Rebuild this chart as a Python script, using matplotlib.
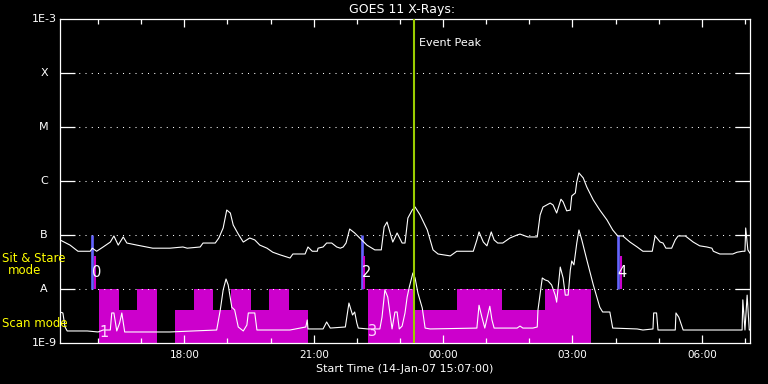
import matplotlib
matplotlib.use('Agg')
import matplotlib.pyplot as plt
from matplotlib.ticker import FixedLocator, NullLocator

title = "GOES 11 X-Rays:"
x_title = "Start Time (14-Jan-07 15:07:00)"
start_clock_min = 15 * 60 + 7          # 15:07
span_min = 960

# ---- GOES long channel (minutes after start, W/m^2) ----
long_t = [0, 14, 25, 42, 45, 51, 60, 70, 75, 81, 88, 93, 107, 129, 153, 171, 177, 195, 199,
          216, 221, 227, 232, 237, 241, 248, 255, 264, 271, 278, 288, 296, 306, 320, 324,
          341, 345, 351, 358, 359, 366, 371, 378, 385, 390, 394, 398, 403, 410, 417, 427,
          438, 447, 451, 455, 459, 463, 469, 476, 480, 484, 490, 494, 501, 511, 519, 526,
          543, 552, 575, 580, 583, 589, 594, 600, 604, 609, 616, 626, 636, 640, 651, 664,
          668, 672, 682, 686, 691, 697, 700, 705, 710, 712, 717, 719, 722, 728, 733, 742,
          751, 761, 769, 776, 783, 793, 803, 811, 824, 828, 835, 839, 843, 851, 856, 860,
          870, 881, 890, 900, 907, 909, 918, 936, 942, 950, 953, 954, 957, 960]
long_flux = [8.1e-8, 6.5e-8, 5.0e-8, 5.0e-8, 5.7e-8, 5.0e-8, 6.0e-8, 7.4e-8, 9.6e-8, 6.5e-8,
             9.2e-8, 7.1e-8, 6.5e-8, 5.7e-8, 5.7e-8, 6.0e-8, 5.7e-8, 6.0e-8, 7.1e-8, 7.1e-8,
             8.8e-8, 1.35e-7, 2.9e-7, 2.55e-7, 1.53e-7, 1.04e-7, 7.4e-8, 8.8e-8, 8.1e-8,
             6.5e-8, 5.7e-8, 4.8e-8, 4.3e-8, 3.75e-8, 4.45e-8, 4.45e-8, 6.0e-8, 5.0e-8,
             5.0e-8, 5.7e-8, 6.0e-8, 7.1e-8, 7.1e-8, 6.0e-8, 5.7e-8, 6.0e-8, 7.1e-8, 1.29e-7,
             1.09e-7, 8.8e-8, 6.5e-8, 5.3e-8, 5.3e-8, 1.41e-7, 1.74e-7, 1.14e-7, 7.4e-8,
             1.09e-7, 7.1e-8, 7.1e-8, 2.06e-7, 2.9e-7, 3.3e-7, 2.35e-7, 1.24e-7, 5.3e-8,
             4.45e-8, 4.1e-8, 5.0e-8, 5.0e-8, 8.1e-8, 1.14e-7, 7.4e-8, 6.3e-8, 1.14e-7,
             8.1e-8, 7.1e-8, 7.1e-8, 8.8e-8, 1.0e-7, 1.04e-7, 9.2e-8, 9.2e-8, 2.35e-7, 3.3e-7,
             3.9e-7, 3.6e-7, 2.55e-7, 4.6e-7, 4.1e-7, 2.8e-7, 2.9e-7, 5.3e-7, 6.0e-7, 9.6e-7,
             1.41e-6, 1.14e-6, 7.7e-7, 4.45e-7, 2.9e-7, 1.9e-7, 1.24e-7, 9.6e-8, 9.6e-8,
             7.4e-8, 6.0e-8, 5.0e-8, 5.0e-8, 9.6e-8, 7.4e-8, 7.1e-8, 5.7e-8, 5.7e-8, 8.1e-8,
             9.6e-8, 9.6e-8, 7.4e-8, 6.3e-8, 6.0e-8, 5.7e-8, 5.0e-8, 4.45e-8, 4.45e-8, 4.8e-8,
             5.0e-8, 5.0e-8, 1.35e-7, 5.3e-8, 4.6e-8]

# ---- GOES short channel ----
short_t = [0, 4, 7, 10, 38, 53, 60, 70, 72, 75, 79, 83, 86, 90, 153, 185, 218, 223, 227, 231,
           234, 239, 243, 248, 255, 260, 262, 271, 274, 320, 342, 344, 345, 366, 371, 376,
           397, 402, 407, 410, 413, 415, 428, 445, 448, 452, 456, 462, 466, 469, 472, 476,
           480, 483, 486, 491, 494, 498, 504, 508, 515, 580, 583, 587, 591, 598, 601, 604,
           636, 640, 644, 658, 664, 665, 671, 675, 679, 684, 689, 691, 696, 700, 703, 707,
           710, 712, 715, 719, 722, 726, 733, 742, 751, 755, 765, 769, 803, 811, 825, 826,
           830, 832, 856, 857, 861, 867, 949, 950, 953, 956, 959, 960]
short_flux = [3.75e-9, 3.6e-9, 1.98e-9, 1.67e-9, 1.67e-9, 1.6e-9, 1.74e-9, 1.74e-9, 3.6e-9,
              3.6e-9, 1.67e-9, 2.35e-9, 3.6e-9, 1.6e-9, 1.6e-9, 1.67e-9, 1.74e-9, 4.1e-9,
              9.6e-9, 1.53e-8, 1.19e-8, 4.6e-9, 4.1e-9, 1.98e-9, 1.67e-9, 2.15e-9, 3.6e-9,
              3.6e-9, 1.74e-9, 1.74e-9, 1.98e-9, 2.67e-9, 1.82e-9, 1.82e-9, 2.45e-9, 1.89e-9,
              1.98e-9, 5.5e-9, 3.3e-9, 3.75e-9, 2.35e-9, 1.89e-9, 1.82e-9, 1.82e-9, 3.0e-9,
              9.6e-9, 7.1e-9, 1.82e-9, 3.75e-9, 3.75e-9, 1.82e-9, 2.06e-9, 3.6e-9, 7.1e-9,
              1.09e-8, 1.98e-8, 1.6e-8, 8.4e-9, 4.45e-9, 1.89e-9, 1.82e-9, 1.89e-9, 5.0e-9,
              3.0e-9, 1.89e-9, 4.8e-9, 2.67e-9, 1.89e-9, 1.89e-9, 2.06e-9, 1.89e-9, 1.89e-9,
              1.98e-9, 4.1e-9, 1.6e-8, 1.47e-8, 1.41e-8, 1.19e-8, 7.7e-9, 5.7e-9, 2.55e-8,
              1.6e-8, 7.7e-9, 7.7e-9, 2.25e-8, 3.3e-8, 2.8e-8, 7.1e-8, 1.24e-7, 8.1e-8,
              3.45e-8, 1.19e-8, 4.6e-9, 3.75e-9, 3.75e-9, 1.89e-9, 1.82e-9, 1.74e-9, 1.82e-9,
              3.6e-9, 3.6e-9, 1.74e-9, 1.74e-9, 3.6e-9, 3.0e-9, 1.74e-9, 1.74e-9, 6.3e-9,
              1.74e-9, 7.7e-9, 1.74e-9, 1.74e-9]

# ---- scan mode blocks ----
scan_start = [54, 82, 107, 160, 186, 213, 238, 266, 291, 319, 429, 494, 552, 615, 675]
scan_end = [82, 107, 135, 186, 213, 238, 266, 291, 319, 345, 494, 552, 615, 675, 739]
scan_top = [1e-8, 4.1e-9, 1e-8, 4.1e-9, 1e-8, 4.1e-9, 1e-8, 4.1e-9, 1e-8, 4.1e-9,
            1e-8, 4.1e-9, 1e-8, 4.1e-9, 1e-8]
scan_labels = ["1", "3"]
scan_label_t = [61, 435]
scan_label_y = [1.55e-9, 1.6e-9]

# ---- sit & stare ----
stare_t = [45, 420, 776]
stare_top = [1e-7, 1e-7, 1e-7]
stare_mark_t = [49, 423, 780]
stare_mark_top = [4.1e-8, 4.1e-8, 4.1e-8]
stare_labels = ["0", "2", "4"]
stare_label_t = [51, 426, 782]
stare_label_y = [2.06e-8, 2.06e-8, 2.06e-8]

event_peak_t = 493

level_vals = [1e-9, 1e-8, 1e-7, 1e-6, 1e-5, 1e-4, 1e-3]
level_names = ["1E-9", "A", "B", "C", "M", "X", "1E-3"]

tick_clock = ["16:00", "17:00", "18:00", "19:00", "20:00", "21:00", "22:00", "23:00",
              "00:00", "01:00", "02:00", "03:00", "04:00", "05:00", "06:00", "07:00"]
label_clock = ["18:00", "21:00", "00:00", "03:00", "06:00"]


def clock_to_min(s):
    h, m = map(int, s.split(":"))
    return (h * 60 + m - start_clock_min) % 1440


W, H = 768, 384
fig = plt.figure(figsize=(W / 100, H / 100), dpi=100, facecolor='black')
ax = fig.add_axes([60 / W, 1 - 343 / H, 690 / W, 324 / H])
ax.set_facecolor('black')
ax.set_yscale('log')
ax.set_xlim(0, span_min)
ax.set_ylim(1e-9, 1e-3)

MAG = '#cc00cc'
# scan blocks
for s, e, top in zip(scan_start, scan_end, scan_top):
    ax.bar(s, top - 1e-9, width=e - s, bottom=1e-9, align='edge', color=MAG,
           linewidth=0, zorder=1)

# dotted level lines
for v in level_vals[1:-1]:
    ax.axhline(v, color='white', lw=0.75, ls=(0, (1, 5)), zorder=2)

# sit & stare markers
for t, top in zip(stare_t, stare_top):
    ax.vlines(t, 1e-8, top, color='#6464ff', lw=1.9, zorder=3)
for t, top in zip(stare_mark_t, stare_mark_top):
    ax.vlines(t, 1e-8, top, color=MAG, lw=1.5, zorder=3)

# curves
ax.plot(long_t, long_flux, color='white', lw=0.8, zorder=4)
ax.plot(short_t, short_flux, color='white', lw=0.8, zorder=4)

for lab, t, y in zip(stare_labels, stare_label_t, stare_label_y):
    ax.text(t, y, lab, color='white', fontsize=10.5, ha='center', va='center', zorder=5)
for lab, t, y in zip(scan_labels, scan_label_t, scan_label_y):
    ax.text(t, y, lab, color='#ffd8ff', fontsize=10.5, ha='center', va='center', zorder=5)

# event peak
ax.axvline(event_peak_t, color='#9acd00', lw=1.5, zorder=6)
ax.text(event_peak_t + 7, 10 ** -3.45, "Event Peak", color='white', fontsize=8,
        ha='left', va='center')

# axes styling
for sp in ax.spines.values():
    sp.set_color('white')
    sp.set_linewidth(0.9)

ax.yaxis.set_major_locator(FixedLocator(level_vals[1:-1]))
ax.yaxis.set_minor_locator(NullLocator())
ax.tick_params(axis='y', which='major', direction='in', length=10.5, width=0.9,
               color='white', left=True, right=True, labelleft=False)
ax.tick_params(axis='y', which='minor', left=False, right=False)

major_pos = [clock_to_min(c) for c in label_clock]
minor_pos = [clock_to_min(c) for c in tick_clock]
ax.xaxis.set_major_locator(FixedLocator(major_pos))
ax.xaxis.set_minor_locator(FixedLocator(minor_pos))
ax.set_xticklabels(label_clock)
ax.tick_params(axis='x', which='major', direction='in', length=5.5, width=0.9,
               color='white', top=True, bottom=True, labelcolor='white',
               labelsize=7.5, pad=5)
ax.tick_params(axis='x', which='minor', direction='in', length=3.5, width=0.9,
               color='white', top=True, bottom=True)

ytr = ax.get_yaxis_transform()
for v, name in zip(level_vals, level_names):
    if name.startswith('1E'):
        ax.text(-0.005, v, name, transform=ytr, color='white', fontsize=8,
                ha='right', va='center')
    else:
        ax.text(-0.023, v, name, transform=ytr, color='white', fontsize=8,
                ha='center', va='center')

ax.set_xlabel(x_title, color='white', fontsize=8, labelpad=3)
fig.text(402 / W, 1 - 9.5 / H, title, color='white', fontsize=9, ha='center', va='center')

fig.text(34 / W, 1 - 258.5 / H, "Sit & Stare", color='yellow', fontsize=8.5,
         ha='center', va='center')
fig.text(24.5 / W, 1 - 271 / H, "mode", color='yellow', fontsize=8.5,
         ha='center', va='center')
fig.text(2 / W, 1 - 323.5 / H, "Scan mode", color='yellow', fontsize=8.5,
         ha='left', va='center')

fig.savefig('out.png', dpi=100, facecolor='black')
